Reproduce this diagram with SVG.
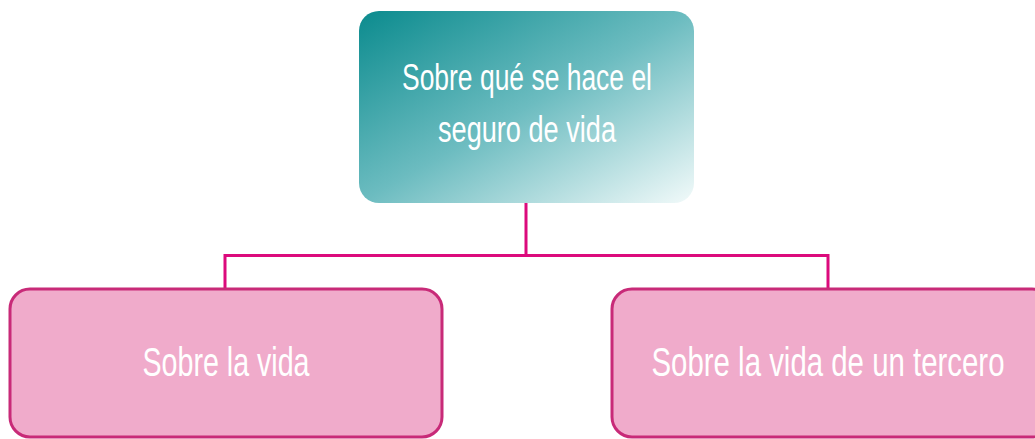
<svg xmlns="http://www.w3.org/2000/svg" width="1035" height="439" viewBox="0 0 1035 439">
<defs>
<linearGradient id="tg" x1="0" y1="0" x2="1" y2="1">
<stop offset="0" stop-color="#0b8b8e"/>
<stop offset="0.5" stop-color="#6cbcc0"/>
<stop offset="1" stop-color="#f2fafa"/>
</linearGradient>
<style>
.t{font-family:"Liberation Sans Narrow","Liberation Sans",sans-serif;fill:#ffffff;text-anchor:middle}
.leaf{fill:#f0abcb;stroke:#c82a78;stroke-width:3}
.c{fill:none;stroke:#dc0a7c;stroke-width:3}
</style>
</defs>
<g id="connectors">
<path class="c" d="M526 203 V255.5 M225 288 V255.5 H828 V288"/>
</g>
<g id="root">
<rect x="359" y="11" width="335" height="192" rx="20" fill="url(#tg)"/>
<text class="t" x="527" y="90" font-size="37" textLength="250" lengthAdjust="spacingAndGlyphs">Sobre qué se hace el</text>
<text class="t" x="527" y="142" font-size="37" textLength="178" lengthAdjust="spacingAndGlyphs">seguro de vida</text>
</g>
<g id="left">
<rect class="leaf" x="10" y="289" width="432" height="148" rx="20"/>
<text class="t" x="226" y="376" font-size="41" textLength="167" lengthAdjust="spacingAndGlyphs">Sobre la vida</text>
</g>
<g id="right">
<rect class="leaf" x="612" y="289" width="440" height="148" rx="20"/>
<text class="t" x="828" y="376" font-size="41" textLength="353" lengthAdjust="spacingAndGlyphs">Sobre la vida de un tercero</text>
</g>
</svg>
